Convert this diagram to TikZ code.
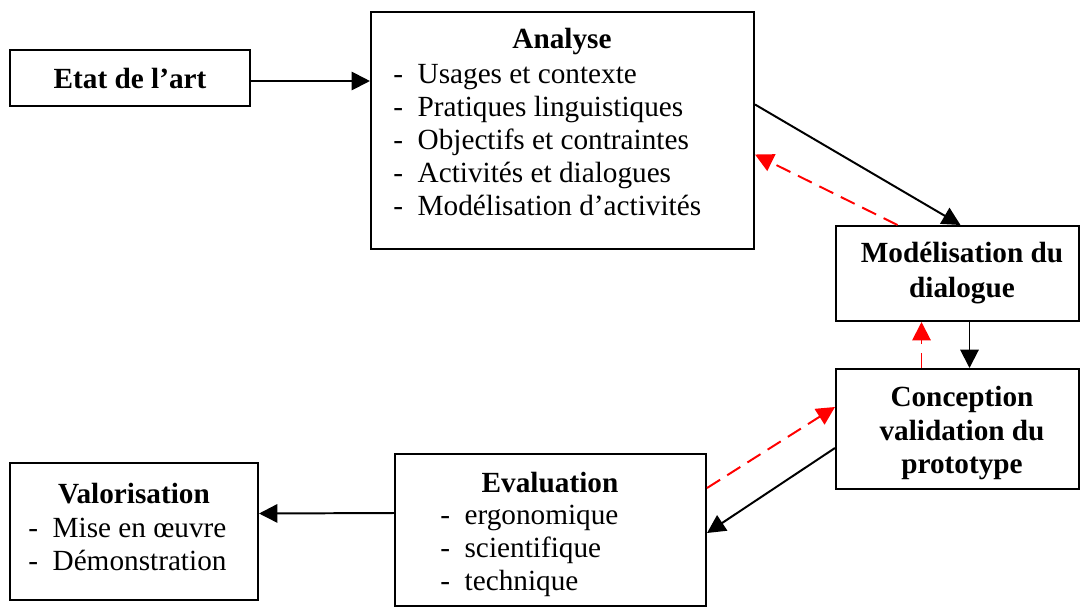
\documentclass[tikz,border=0pt]{standalone}
\usepackage{fontspec}
\setmainfont{Liberation Serif}
\usetikzlibrary{arrows.meta, calc}
\tikzset{>={Triangle[length=13pt,width=13pt]}}
\newcommand{\taille}{\fontsize{20.8}{23.5}\selectfont}
\newcommand{\tiret}{-\hspace{0.5em}}
\tikzset{
  boite/.style={draw, line width=1.4pt, inner sep=0pt, align=center,
    font=\taille\bfseries},
  titre/.style={font=\taille\bfseries, align=center, inner sep=0pt},
  liste/.style={font=\taille, align=left, anchor=west, inner sep=0pt},
  fleche/.style={->, line width=1.4pt},
  retour/.style={->, line width=1.4pt, red, dash pattern=on 11pt off 6pt},
}

\begin{document}
\begin{tikzpicture}[x=0.025cm, y=-0.025cm]
        \useasboundingbox (0,0) rectangle (1081,608);

        % les boites
        \node[boite, minimum width=6cm, minimum height=1.4cm] (etat) at (130,78) {Etat de l'art};
        \node[boite, minimum width=9.575cm, minimum height=5.925cm] (analyse) at (562.5,130.5) {};
        \node[boite, minimum width=6.075cm, minimum height=2.375cm] (modelisation) at (957.5,273.5) {};
        \node[boite, minimum width=6.075cm, minimum height=3cm] (conception) at (957.5,429) {};
        \node[boite, minimum width=7.775cm, minimum height=3.8cm] (evaluation) at (550.5,530) {};
        \node[boite, minimum width=6.2cm, minimum height=3.425cm] (valorisation) at (134,531.5) {};

        % les contenus
        \node[titre] (analyse-titre) at (562,42) {Analyse};
        \node[liste] (analyse-liste) at (393,140) {\tiret Usages et contexte\\\tiret Pratiques linguistiques\\\tiret Objectifs et contraintes\\\tiret Activités et dialogues\\\tiret Modélisation d'activités};
        \node[titre] (modelisation-titre) at (962,273) {Modélisation du\\[2pt]dialogue};
        \node[titre] (conception-titre) at (962,433) {Conception\\validation du\\prototype};
        \node[titre] (evaluation-titre) at (550,483) {Evaluation};
        \node[liste] (evaluation-liste) at (440,551) {\tiret ergonomique\\\tiret scientifique\\\tiret technique};
        \node[titre] (valorisation-titre) at (134,494) {Valorisation};
        \node[liste] (valorisation-liste) at (28,544.5) {\tiret Mise en œuvre\\\tiret Démonstration};

        % les fleches
        \draw[fleche] ($(etat.east)+(0,3)$) -- ($(etat.east -| analyse.west)+(0,3)$);
        \draw[fleche] ($(analyse.east)+(0,-26)$) -- ($(modelisation.north)+(3,0)$);
        \draw[retour] ($(modelisation.north)+(-60,0)$) -- ($(analyse.east)+(0,24)$);
        \draw[fleche] ($(modelisation.south)+(12,0)$) -- ($(conception.north)+(12,0)$);
        \draw[retour] ($(conception.north)+(-36,0)$) -- ($(modelisation.south)+(-36,0)$);
        \draw[retour] ($(evaluation.east)+(0,-42)$) -- ($(conception.west)+(0,-22)$);
        \draw[fleche] ($(conception.west)+(0,19)$) -- ($(evaluation.east)+(0,3)$);
        \draw[fleche] ($(evaluation.west)+(0,-17)$) -- ($(valorisation.east)+(0,-18)$);
\end{tikzpicture}
\end{document}
